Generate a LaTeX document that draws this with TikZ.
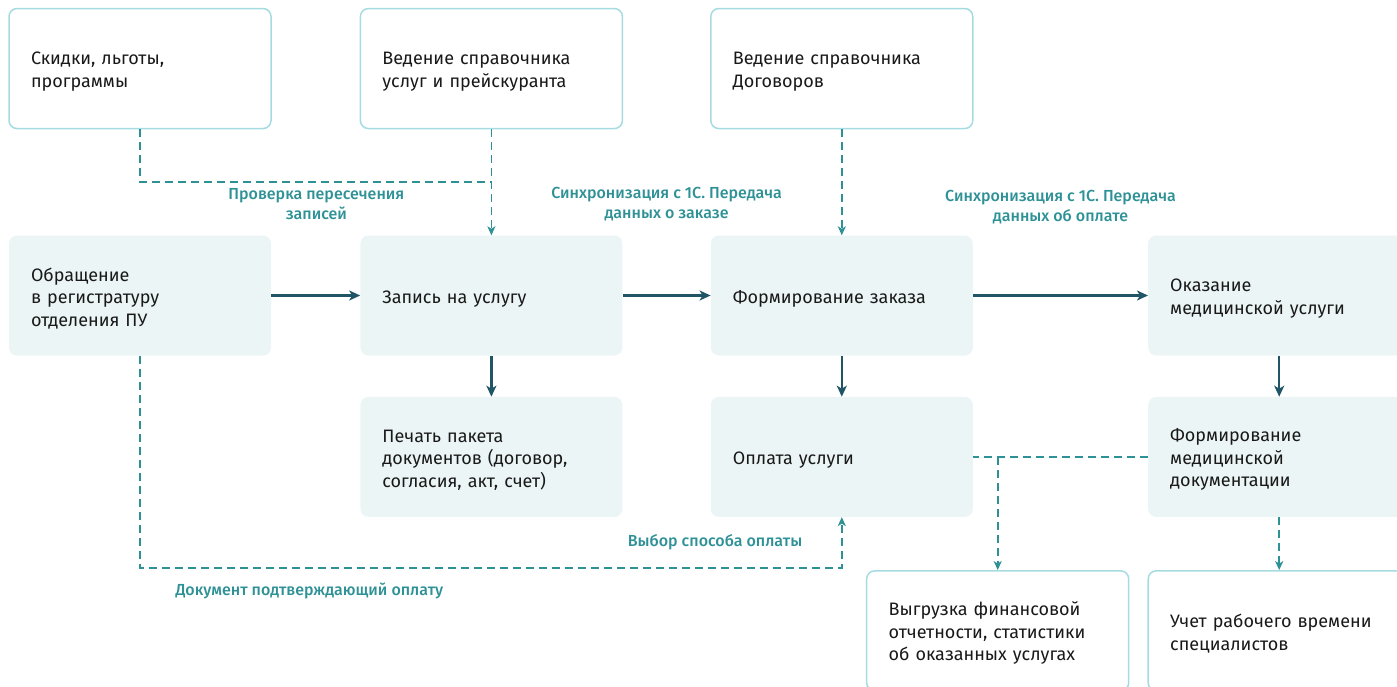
\documentclass[tikz,border=0pt]{standalone}
\usepackage{fontspec}
\setmainfont{Fira Sans}
\newfontfamily\lblfont{Fira Sans Medium}
\usetikzlibrary{positioning,calc,arrows.meta}
\definecolor{boxfill}{HTML}{ECF5F6}
\definecolor{boxline}{HTML}{A6DCE1}
\definecolor{flowline}{HTML}{1F5567}
\definecolor{noteline}{HTML}{2E9196}

\begin{document}
\begin{tikzpicture}[x=1pt, y=-1pt, node distance=89pt,
	box/.style={rounded corners=8pt, minimum width=262pt, minimum height=120pt, text width=218pt, inner xsep=22pt, align=left, font=\fontsize{18}{22.5}\selectfont, text=black!90, execute at begin node={\rule{0pt}{19pt}}},
	extbox/.style={box, draw=boxline, line width=1.5pt, fill=white},
	mainbox/.style={box, fill=boxfill},
	flow/.style={-{Stealth[length=11pt,width=10pt,inset=3pt]}, draw=flowline, line width=2.2pt},
	note/.style={dash pattern=on 8pt off 5pt, draw=noteline, line width=1.8pt},
	notearr/.style={note, -{Stealth[length=9pt,width=8pt,inset=2.5pt]}},
	lbl/.style={text=noteline, align=center, font=\lblfont\fontsize{16}{19.5}\selectfont}]
	\useasboundingbox (0,0) rectangle (1397,687);

	\node[mainbox] (obr) at (140,295.5) {Обращение\\в регистратуру\\отделения ПУ};
	\node[mainbox, right=89pt of obr] (zap) {Запись на услугу};
	\node[mainbox, right=88pt of zap] (form) {Формирование заказа};
	\node[mainbox, right=175pt of form] (okaz) {Оказание\\медицинской услуги};

	\node[extbox, above=106pt of obr] (skid) {Скидки, льготы,\\программы};
	\node[extbox, above=106pt of zap] (sprav) {Ведение справочника\\услуг и прейскуранта};
	\node[extbox, above=106pt of form] (dog) {Ведение справочника\\Договоров};

	\node[mainbox, below=41pt of zap] (pech) {Печать пакета\\документов (договор,\\согласия, акт, счет)};
	\node[mainbox, below=41pt of form] (opl) {Оплата услуги};
	\node[mainbox, below=41pt of okaz] (fmd) {Формирование\\медицинской\\документации};

	\node[extbox, below=53pt of fmd] (uchet) {Учет рабочего времени\\специалистов};
	\node[extbox, left=18pt of uchet] (vyg) {Выгрузка финансовой\\отчетности, статистики\\об оказанных услугах};

	\draw[flow] (obr) -- (zap);
	\draw[flow] (zap) -- (form);
	\draw[flow] (form) -- (okaz);
	\draw[flow] (zap) -- (pech);
	\draw[flow] (form) -- (opl);
	\draw[flow] (okaz) -- (fmd);

	\coordinate (j1) at ($(sprav.south)!0.5!(zap.north)$);
	\coordinate (j2) at ($(opl.south)+(0,51)$);
	\draw[note] (skid.south) |- (j1);
	\draw[notearr] (sprav) -- (zap);
	\draw[notearr] (dog) -- (form);
	\draw[notearr] (obr.south) |- (j2) -- (opl.south);
	\draw[note] (fmd.west) -- (opl.east);
	\draw[notearr] (vyg.north |- opl.east) -- (vyg.north);
	\draw[notearr] (fmd) -- (uchet);

	\node[lbl] (l1) at ($(j1)+(-175,22)$) {Проверка пересечения\\записей};
	\node[lbl] (l2) at ($(zap.north east)!0.5!(form.north west)+(0,-31)$) {Синхронизация с 1С. Передача\\данных о заказе};
	\node[lbl] (l3) at ($(form.north east)!0.5!(okaz.north west)+(0,-28)$) {Синхронизация с 1С. Передача\\данных об оплате};
	\node[lbl, anchor=east] (l4) at ($(opl.south)+(-36,25)$) {Выбор способа оплаты};
	\node[lbl, anchor=west] (l5) at ($(obr.south |- j2)+(32,23)$) {Документ подтверждающий оплату};
\end{tikzpicture}
\end{document}
